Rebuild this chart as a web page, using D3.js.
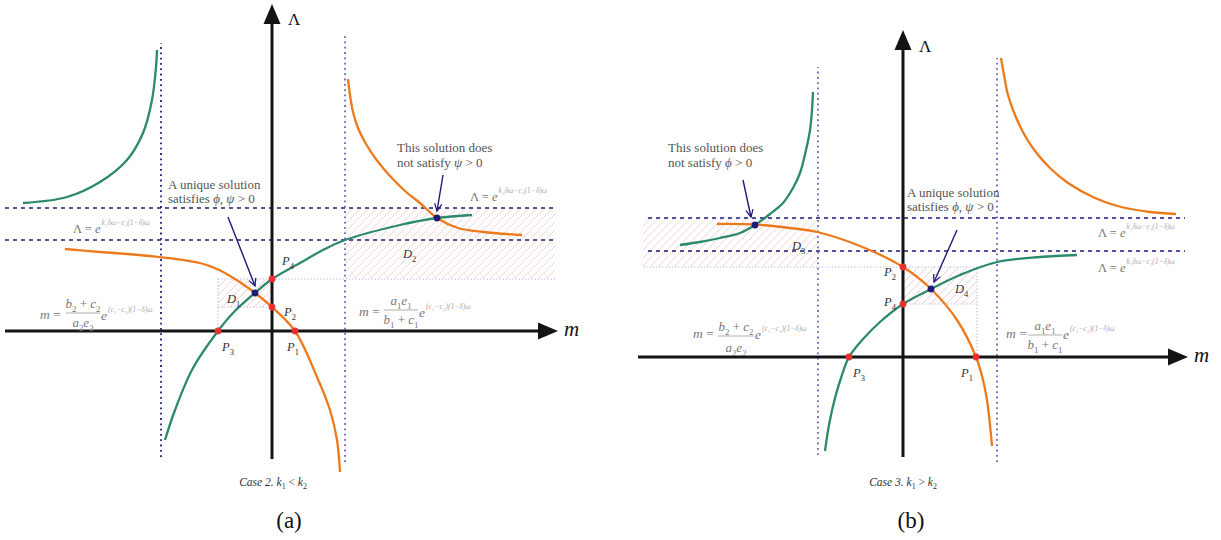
<!DOCTYPE html>
<html>
<head>
<meta charset="utf-8">
<script src="https://cdn.jsdelivr.net/npm/d3@7"></script>
<style>
  body { margin: 0; background: #fff; }
  svg { display: block; }
  text { font-family: "Liberation Serif", "DejaVu Serif", serif; }
</style>
</head>
<body>
<svg id="fig" width="1221" height="540" font-family="Liberation Serif, DejaVu Serif, serif"></svg>
<script>
// ---- curve data, in axis units (m, Lambda) ----
// panel (a)  Case 2, k1 < k2
var greenA_upper = [[-24.9,12.8],[-20.5,13.4],[-17.2,14.9],[-14.5,17.1],[-12.9,19.8],[-12.0,23.1],[-11.6,26.4],[-11.5,28.1]];
var orangeA_upper = [[7.6,25.2],[7.8,23.6],[8.1,21.9],[8.6,20.3],[9.4,18.7],[10.5,17.05],[11.8,15.5],[13.3,14.0],[14.8,12.8],[16.5,11.3],[18.6,10.3],[21.1,9.9],[25.0,9.6]];
var greenA_main = [[-10.7,-10.9],[-9.7,-7.9],[-7.9,-3.7],[-5.4,0],[-3.9,1.8],[-1.7,3.8],[0,5.2],[2.8,6.8],[5.1,8.1],[7.3,9.1],[12.8,10.6],[16.5,11.3],[20.0,11.6]];
var orangeA_main = [[-20.7,8.2],[-17.2,7.9],[-12.2,7.5],[-7.2,6.8],[-5.5,6.2],[-3.7,5.2],[-1.7,3.8],[0,2.4],[2.3,0],[4.5,-4.6],[5.8,-7.9],[6.5,-10.9],[6.8,-14.1]];
var pointsA = [[2.3,0,'1'],[0,2.4,'2'],[-5.4,0,'3'],[0,5.2,'4']];
var solutionsA = [[-1.7,3.8],[16.5,11.3]];
var asymA_m = [-11.1, 7.3];
var asymA_L = [12.3, 9.1];

// panel (b)  Case 3, k1 > k2
var greenB_upper = [[-22.3,11.2],[-20.3,11.5],[-18.3,11.9],[-16.3,12.4],[-14.8,13.2],[-13.3,14.3],[-12.0,15.4],[-11.0,16.9],[-10.3,18.4],[-9.7,20.7],[-9.3,22.7],[-9.1,24.7],[-9.0,26.5]];
var orangeB_upper = [[9.8,29.9],[10.1,28.2],[10.5,26.2],[11.2,24.2],[12.1,22.3],[13.2,20.6],[14.7,18.9],[16.5,17.4],[19.2,15.9],[21.8,15.0],[24.7,14.5],[27.3,14.3]];
var greenB_main = [[-7.8,-9.4],[-7.4,-6.8],[-6.8,-4.1],[-6.1,-1.8],[-5.4,0],[-3.9,1.9],[-2.3,3.5],[0,5.3],[2.8,6.8],[5.7,8.2],[9.4,9.5],[13.7,10.0],[17.4,10.2]];
var orangeB_main = [[-18.6,13.3],[-14.8,13.25],[-11.3,12.9],[-8.6,12.5],[-4.3,11.1],[0,9.0],[2.8,6.8],[5.4,3.7],[7.3,0],[8.0,-2.3],[8.4,-4.3],[8.7,-6.8],[8.9,-8.9]];
var pointsB = [[7.3,0,'1'],[0,9.0,'2'],[-5.4,0,'3'],[0,5.3,'4']];
var solutionsB = [[2.8,6.8],[-14.8,13.2]];
var asymB_m = [-8.5, 9.4];
var asymB_L = [13.9, 10.6];

var GREEN = '#2b8a6c', ORANGE = '#ec7a1c', NAVY = '#1d1b78', LAV = '#6f63bd', RED = '#e8322e';
var HATCH = '#f8bcc5';

var svg = d3.select('#fig');
var defs = svg.append('defs');
var clipId = 0;

defs.append('marker')
    .attr('id', 'vee')
    .attr('viewBox', '0 0 10 10')
    .attr('refX', 9).attr('refY', 5)
    .attr('markerWidth', 9).attr('markerHeight', 9)
    .attr('markerUnits', 'userSpaceOnUse')
    .attr('orient', 'auto')
  .append('path')
    .attr('d', 'M1,1 L9,5 L1,9')
    .attr('fill', 'none')
    .attr('stroke', NAVY)
    .attr('stroke-width', 1.4);

// rich text helper: parts = [[text, kind]], kind: n, i, sub, sup
function rich(g, x, y, parts, size, fill, anchor) {
    var t = g.append('text')
        .attr('x', x).attr('y', y)
        .attr('font-size', size)
        .attr('fill', fill)
        .attr('text-anchor', anchor || 'start');
    var shift = 0;
    parts.forEach(function (p) {
        var target = p[1] == 'sub' ? size * 0.3 : (p[1] == 'sup' ? -size * 0.5 : 0);
        var sp = t.append('tspan').attr('dy', target - shift).text(p[0]);
        shift = target;
        if (p[1] == 'sub' || p[1] == 'sup') sp.attr('font-size', size * 0.68);
        if (p[1] == 'i') sp.attr('font-style', 'italic');
    });
    return t;
}

function drawPanel(cfg) {
    var x = d3.scaleLinear().domain([0, 1]).range([cfg.ox, cfg.ox + 10]);
    var y = d3.scaleLinear().domain([0, 1]).range([cfg.oy, cfg.oy - 10]);
    var g = svg.append('g');
    var line = d3.line()
        .x(function (d) { return x(d[0]); })
        .y(function (d) { return y(d[1]); })
        .curve(d3.curveCatmullRom.alpha(0.5));

    // hatched regions: diagonal lines clipped to each box
    cfg.regions.forEach(function (r) {
        var x0 = x(r[0]), x1 = x(r[1]), y0 = y(r[3]), y1 = y(r[2]);
        var id = 'clip' + (clipId++);
        defs.append('clipPath').attr('id', id)
          .append('rect')
            .attr('x', x0).attr('y', y0)
            .attr('width', x1 - x0).attr('height', y1 - y0);
        var h = y1 - y0;
        g.append('g').attr('clip-path', 'url(#' + id + ')')
          .selectAll('line')
          .data(d3.range(x0 - h, x1 + 8, 8))
          .enter().append('line')
            .attr('x1', function (d) { return d; }).attr('y1', y1)
            .attr('x2', function (d) { return d + h; }).attr('y2', y0)
            .attr('stroke', HATCH).attr('stroke-width', 0.7);
    });

    // light dotted guides
    cfg.guides.forEach(function (s) {
        g.append('line')
            .attr('x1', x(s[0])).attr('y1', y(s[1]))
            .attr('x2', x(s[2])).attr('y2', y(s[3]))
            .attr('stroke', '#b7aee6').attr('stroke-width', 1.1)
            .attr('stroke-dasharray', '1.2,2');
    });

    // asymptotes
    cfg.asymL.forEach(function (v) {
        g.append('line')
            .attr('x1', x(cfg.dashRange[0])).attr('x2', x(cfg.dashRange[1]))
            .attr('y1', y(v)).attr('y2', y(v))
            .attr('stroke', NAVY).attr('stroke-width', 1.4)
            .attr('stroke-dasharray', '4,4');
    });
    cfg.asymM.forEach(function (v, i) {
        g.append('line')
            .attr('x1', x(v)).attr('x2', x(v))
            .attr('y1', y(cfg.vRange[i][0])).attr('y2', y(cfg.vRange[i][1]))
            .attr('stroke', cfg.vColor[i]).attr('stroke-width', 1.8)
            .attr('stroke-dasharray', '1.8,3.5');
    });

    // axes
    g.append('line')
        .attr('x1', x(cfg.xAxis[0])).attr('x2', x(cfg.xAxis[1]) - 15)
        .attr('y1', y(0)).attr('y2', y(0))
        .attr('stroke', '#141414').attr('stroke-width', 3);
    g.append('line')
        .attr('x1', x(0)).attr('x2', x(0))
        .attr('y1', y(cfg.yAxis[0])).attr('y2', y(cfg.yAxis[1]) + 15)
        .attr('stroke', '#141414').attr('stroke-width', 3);
    var tx = x(cfg.xAxis[1]), ty = y(cfg.yAxis[1]);
    g.append('path')
        .attr('d', 'M' + tx + ',' + y(0) + 'L' + (tx - 20) + ',' + (y(0) - 8.5) + 'L' + (tx - 20) + ',' + (y(0) + 8.5) + 'Z')
        .attr('fill', '#141414');
    g.append('path')
        .attr('d', 'M' + x(0) + ',' + ty + 'L' + (x(0) - 8.5) + ',' + (ty + 20) + 'L' + (x(0) + 8.5) + ',' + (ty + 20) + 'Z')
        .attr('fill', '#141414');

    // curves
    cfg.curves.forEach(function (c) {
        g.append('path')
            .datum(c[0])
            .attr('d', line)
            .attr('fill', 'none')
            .attr('stroke', c[1])
            .attr('stroke-width', 2.3);
    });

    // intersection points
    g.selectAll('.pt').data(cfg.points).enter().append('circle')
        .attr('cx', function (d) { return x(d[0]); })
        .attr('cy', function (d) { return y(d[1]); })
        .attr('r', 3.4).attr('fill', RED);
    g.selectAll('.sol').data(cfg.solutions).enter().append('circle')
        .attr('cx', function (d) { return x(d[0]); })
        .attr('cy', function (d) { return y(d[1]); })
        .attr('r', 3.4).attr('fill', NAVY);

    // arrows
    cfg.arrows.forEach(function (a) {
        g.append('line')
            .attr('x1', x(a[0])).attr('y1', y(a[1]))
            .attr('x2', x(a[2])).attr('y2', y(a[3]))
            .attr('stroke', NAVY).attr('stroke-width', 1.4)
            .attr('marker-end', 'url(#vee)');
    });

    // point labels
    cfg.pLabels.forEach(function (l) {
        rich(g, l[0], l[1], [[l[2], 'i'], [l[3], 'sub']], 12.5, '#333');
    });

    // axis labels
    g.append('text').attr('x', cfg.lamLabel[0]).attr('y', cfg.lamLabel[1])
        .attr('font-size', 17).attr('fill', '#111').text('Λ');
    g.append('text').attr('x', cfg.mLabel[0]).attr('y', cfg.mLabel[1])
        .attr('font-size', 21).attr('font-style', 'italic').attr('fill', '#111').text('m');

    // comment texts
    cfg.notes.forEach(function (n) {
        rich(g, n[0], n[1], [['This solution does', 'n']], 13, '#555');
        rich(g, n[0], n[1] + 15, [['not satisfy ', 'n'], [n[2], 'i'], [' > 0', 'n']], 13, '#555');
    });
    cfg.unique.forEach(function (n) {
        rich(g, n[0], n[1], [['A unique solution', 'n']], 13, '#555');
        rich(g, n[0], n[1] + 14, [['satisfies ', 'n'], ['ϕ, ψ', 'i'], [' > 0', 'n']], 13, '#555');
    });

    // Lambda formulas
    cfg.lamForm.forEach(function (f) {
        var t = g.append('text').attr('x', f[0]).attr('y', f[1])
            .attr('font-size', 12.5).attr('fill', '#777');
        t.append('tspan').text('Λ = ');
        t.append('tspan').attr('font-style', 'italic').text('e');
        t.append('tspan').attr('dx', 1).attr('dy', -8)
            .attr('font-size', 7.5).attr('fill', '#aaa').attr('font-style', 'italic')
            .text(f[2]);
    });

    // m formulas
    cfg.mForm.forEach(function (f) {
        rich(g, f.mx, f.base, [['m', 'i'], [' =', 'n']], 13.5, '#777');
        rich(g, f.cx, f.num, f.top, 13, '#777', 'middle');
        g.append('line').attr('x1', f.cx - f.hw).attr('x2', f.cx + f.hw)
            .attr('y1', f.bar).attr('y2', f.bar).attr('stroke', '#999').attr('stroke-width', 0.8);
        rich(g, f.cx, f.den, f.bot, 13, '#777', 'middle');
        var t = g.append('text').attr('x', f.ex).attr('y', f.base + 1)
            .attr('font-size', 13.5).attr('font-style', 'italic').attr('fill', '#777');
        t.append('tspan').text('e');
        t.append('tspan').attr('dx', 1).attr('dy', -8)
            .attr('font-size', 7.5).attr('fill', '#aaa')
            .text('(c₁−c₂)(1−δ)ω');
    });

    // caption
    rich(g, cfg.caseLabel[0], cfg.caseLabel[1], cfg.caseLabel[2], 11.5, '#333', 'middle');
    g.append('text').attr('x', cfg.sub[0]).attr('y', cfg.sub[1])
        .attr('font-size', 23).attr('text-anchor', 'middle').attr('fill', '#111').text(cfg.sub[2]);
}

var numB = [['b', 'i'], ['2', 'sub'], [' + ', 'n'], ['c', 'i'], ['2', 'sub']];
var denA = [['a', 'i'], ['2', 'sub'], ['e', 'i'], ['2', 'sub']];
var numA1 = [['a', 'i'], ['1', 'sub'], ['e', 'i'], ['1', 'sub']];
var denB1 = [['b', 'i'], ['1', 'sub'], [' + ', 'n'], ['c', 'i'], ['1', 'sub']];

drawPanel({
    ox: 272, oy: 331,
    regions: [[-5.4, 0, 2.4, 5.2], [7.3, 28.3, 5.2, 12.3]],
    guides: [[-5.4, 5.2, 28.3, 5.2], [-5.4, 2.4, 0, 2.4], [-5.4, 0, -5.4, 5.2]],
    asymL: asymA_L, dashRange: [-26.7, 28.3],
    asymM: asymA_m, vRange: [[-12.6, 28.8], [-13.1, 29.8]], vColor: [NAVY, LAV],
    xAxis: [-26.7, 28.6], yAxis: [-12.8, 32.7],
    curves: [[greenA_upper, GREEN], [orangeA_upper, ORANGE], [greenA_main, GREEN], [orangeA_main, ORANGE]],
    points: pointsA, solutions: solutionsA,
    arrows: [[-4.4, 11.4, -1.7, 4.5], [17.1, 15.6, 16.5, 12.0]],
    pLabels: [[282, 265, 'P', '4'], [284, 316, 'P', '2'], [222, 351, 'P', '3'], [287, 351, 'P', '1'], [227, 303, 'D', '1'], [403, 258, 'D', '2']],
    lamLabel: [288, 25], mLabel: [564, 336],
    notes: [[397, 152, 'ψ']],
    unique: [[168, 189]],
    lamForm: [[470, 201, 'k₂δω−c₂(1−δ)ω'], [73, 233, 'k₁δω−c₁(1−δ)ω']],
    mForm: [
        { mx: 40, base: 319, cx: 83, num: 308, bar: 313, den: 327, hw: 17, ex: 101, top: numB, bot: denA },
        { mx: 359, base: 316, cx: 401, num: 305, bar: 310, den: 324, hw: 17, ex: 419, top: numA1, bot: denB1 }
    ],
    caseLabel: [273, 486, [['Case 2.  ', 'i'], ['k', 'i'], ['1', 'sub'], [' < ', 'n'], ['k', 'i'], ['2', 'sub']]],
    sub: [289, 528, '(a)']
});

drawPanel({
    ox: 903, oy: 357,
    regions: [[-26.0, -8.5, 9.0, 13.9], [0, 7.4, 5.3, 9.0]],
    guides: [[-26.0, 9.0, 7.4, 9.0], [0, 5.3, 7.4, 5.3], [7.4, 0, 7.4, 9.0]],
    asymL: asymB_L, dashRange: [-25.5, 28.2],
    asymM: asymB_m, vRange: [[-9.8, 29.0], [-10.5, 29.9]], vColor: [LAV, LAV],
    xAxis: [-26.5, 28.5], yAxis: [-10.0, 32.7],
    curves: [[greenB_upper, GREEN], [orangeB_upper, ORANGE], [greenB_main, GREEN], [orangeB_main, ORANGE]],
    points: pointsB, solutions: solutionsB,
    arrows: [[-16.0, 17.7, -15.2, 14.0], [5.4, 12.7, 3.1, 7.5]],
    pLabels: [[884, 276, 'P', '2'], [884, 306, 'P', '4'], [853, 377, 'P', '3'], [961, 377, 'P', '1'], [955, 293, 'D', '4'], [792, 250, 'D', '3']],
    lamLabel: [919, 52], mLabel: [1194, 362],
    notes: [[668, 152, 'ϕ']],
    unique: [[907, 197]],
    lamForm: [[1098, 237, 'k₁δω−c₁(1−δ)ω'], [1098, 272, 'k₂δω−c₂(1−δ)ω']],
    mForm: [
        { mx: 693, base: 338, cx: 736, num: 331, bar: 336, den: 352, hw: 18, ex: 755, top: numB, bot: denA },
        { mx: 1006, base: 338, cx: 1045, num: 330, bar: 335, den: 349, hw: 17, ex: 1063, top: numA1, bot: denB1 }
    ],
    caseLabel: [903, 486, [['Case 3.  ', 'i'], ['k', 'i'], ['1', 'sub'], [' > ', 'n'], ['k', 'i'], ['2', 'sub']]],
    sub: [911, 528, '(b)']
});
</script>
</body>
</html>
